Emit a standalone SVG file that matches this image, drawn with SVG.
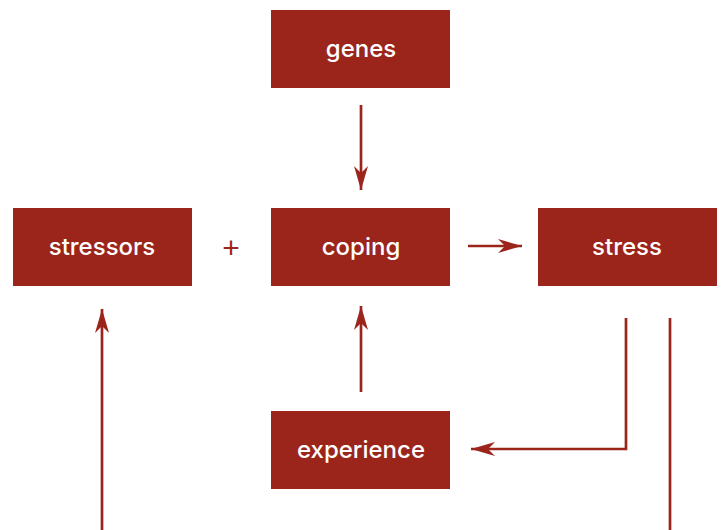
<svg xmlns="http://www.w3.org/2000/svg" width="722" height="530" viewBox="0 0 722 530">
<style>
.box{fill:#9b251b}
.lbl{fill:#ffffff;font-family:Inter,"Liberation Sans",Arial,sans-serif;font-weight:500;font-size:24px;text-anchor:middle}
.con{fill:none;stroke:#9b251b;stroke-width:2.7}
.plus{fill:#9b251b;font-family:"Liberation Sans",Arial,sans-serif;font-size:30px;text-anchor:middle}
</style>
<defs>
<marker id="ah" markerUnits="userSpaceOnUse" markerWidth="26" markerHeight="16" viewBox="-25 -8 26 16" refX="0" refY="0" orient="auto">
<path d="M0,0 L-24,-7 L-17,0 L-24,7 Z" fill="#9b251b"/>
</marker>
</defs>
<rect width="722" height="530" fill="#ffffff"/>
<g id="genes"><rect class="box" x="271" y="10" width="179" height="78"/><text class="lbl" x="361" y="57">genes</text></g>
<g id="stressors"><rect class="box" x="13" y="208" width="179" height="78"/><text class="lbl" x="102" y="255">stressors</text></g>
<g id="coping"><rect class="box" x="271" y="208" width="179" height="78"/><text class="lbl" x="361" y="255">coping</text></g>
<g id="stress"><rect class="box" x="538" y="208" width="179" height="78"/><text class="lbl" x="627" y="255">stress</text></g>
<g id="experience"><rect class="box" x="271" y="411" width="179" height="78"/><text class="lbl" x="361" y="458">experience</text></g>
<text class="plus" x="231" y="258">+</text>
<g id="connectors">
<path class="con" d="M361,105 V190" marker-end="url(#ah)"/>
<path class="con" d="M468,246 H522" marker-end="url(#ah)"/>
<path class="con" d="M361,392 V306" marker-end="url(#ah)"/>
<path class="con" d="M626,318 V449 H471" marker-end="url(#ah)"/>
<path class="con" d="M670,318 V530"/>
<path class="con" d="M102,530 V309" marker-end="url(#ah)"/>
</g>
</svg>
